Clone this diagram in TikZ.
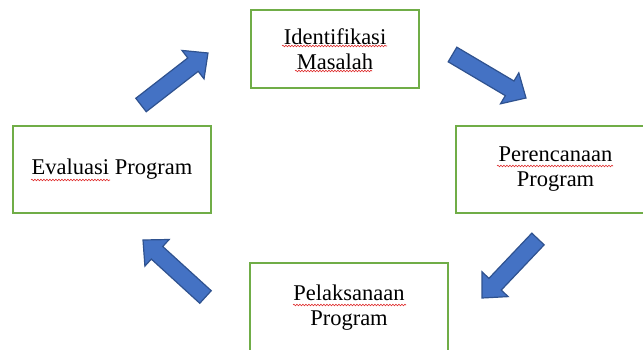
\documentclass[tikz,border=0pt]{standalone}
\usepackage{fontspec}
\setmainfont{Liberation Serif}
\usetikzlibrary{calc,decorations.pathmorphing}
\definecolor{boxgreen}{HTML}{70AD47}
\definecolor{arrowfill}{HTML}{4472C4}
\definecolor{arrowline}{HTML}{2F528F}
\definecolor{spellred}{HTML}{E03030}
\tikzset{
  stagebox/.style={draw=boxgreen, line width=2pt, fill=white, inner sep=0pt,
    align=center, font=\fontsize{22.5}{25}\selectfont},
  blockarrowstyle/.style={draw=arrowline, fill=arrowfill, line width=1.2pt, line join=miter},
  spell/.style={draw=spellred, line width=0.6pt, decorate,
    decoration={snake, amplitude=0.8pt, segment length=3pt}}
}
\newcommand\blockarrow[2]{%
  \coordinate (#1n) at ($(#2)!19pt!(#1)$);
  \draw[blockarrowstyle] ($(#1)!8.5pt!90:(#2)$) -- ($(#1n)!8.5pt!90:(#2)$) -- ($(#1n)!18pt!90:(#2)$)
    -- (#2) -- ($(#1n)!18pt!-90:(#2)$) -- ($(#1n)!8.5pt!-90:(#2)$) -- ($(#1)!8.5pt!-90:(#2)$) -- cycle;
}
\begin{document}
\begin{tikzpicture}[x=1pt, y=-1pt]
\useasboundingbox (0,0) rectangle (643,350);
% stage boxes
\node[stagebox, minimum width=168pt, minimum height=78pt] (ident) at (335,49) {Identifikasi\\Masalah};
\node[stagebox, minimum width=199pt, minimum height=87pt] (renc) at (555.5,169.5) {Perencanaan\\Program};
\node[stagebox, minimum width=198pt, minimum height=90pt] (laks) at (349,308) {Pelaksanaan\\Program};
\node[stagebox, minimum width=198pt, minimum height=87pt] (eval) at (112,169.5) {Evaluasi Program};
% spell-check underlines
\draw[spell] (282,46) -- (387,46);
\draw[spell] (295,71) -- (372,71);
\draw[spell] (497,166) -- (613,166);
\draw[spell] (293,305) -- (406,305);
\draw[spell] (31,180) -- (110,180);
% block arrows
\coordinate (aonet) at (141,105);   \coordinate (aoneh) at (208,53);
\coordinate (atwot) at (452.5,54.5); \coordinate (atwoh) at (526,98);
\coordinate (athreet) at (538,239); \coordinate (athreeh) at (482,298);
\coordinate (afourt) at (205.5,297); \coordinate (afourh) at (143,240);
\blockarrow{aonet}{aoneh}
\blockarrow{atwot}{atwoh}
\blockarrow{athreet}{athreeh}
\blockarrow{afourt}{afourh}
\end{tikzpicture}
\end{document}
